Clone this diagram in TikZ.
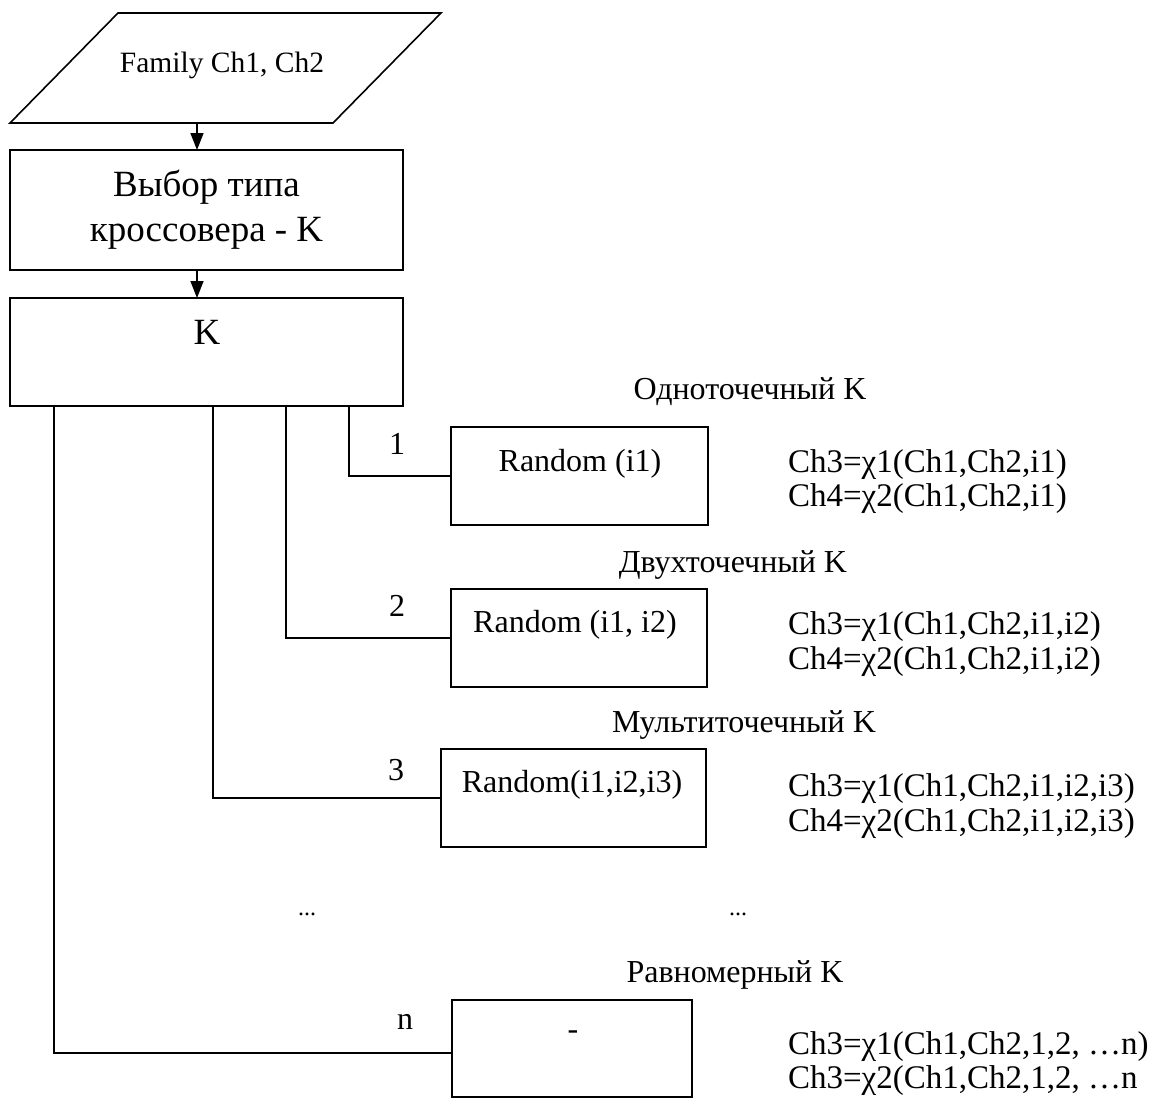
\documentclass[tikz,border=0pt]{standalone}
\usepackage{fontspec}
\setmainfont{Liberation Serif}
\usetikzlibrary{arrows.meta}
\begin{document}
\begin{tikzpicture}[x=1pt,y=-1pt,
  lw/.style={line width=1.6pt},
  fs/.style={font=\fontsize{#1}{#1}\selectfont},
  blk/.style={draw,lw,rectangle,outer sep=0pt,inner sep=0pt},
  txt/.style={inner sep=0pt,outer sep=0pt,text height=0.7em,text depth=0.22em,anchor=center,yshift=-7pt},
  frm/.style={txt,anchor=west,fs=33},
  arr/.style={lw,-{Triangle[length=17pt,width=13pt]}},
  con/.style={lw}]
\useasboundingbox (0,0) rectangle (1150,1098);

% input parallelogram
\draw[lw] (118,13) -- (441,13) -- (333,123) -- (10,123) -- cycle;
\node[txt,fs=29.5] (fam) at (222,63) {Family Ch1, Ch2};
\coordinate (famS) at (197,123);

% selection box
\node[blk,minimum width=393pt,minimum height=120pt,align=center,
      font=\fontsize{37}{45}\selectfont] (sel) at (206.5,210) {Выбор типа\\кроссовера - K};

% K box
\node[blk,minimum width=393pt,minimum height=108pt] (kbox) at (206.5,352) {};
\node[txt,fs=37] (klbl) at (207,335) {K};

% operator boxes
\node[blk,minimum width=257pt,minimum height=98pt] (r1) at (579.5,476) {};
\node[txt,fs=32] (t1) at (580,462) {Random (i1)};
\node[blk,minimum width=256pt,minimum height=98pt] (r2) at (579,638) {};
\node[txt,fs=32] (t2) at (575,623) {Random (i1, i2)};
\node[blk,minimum width=265pt,minimum height=98pt] (r3) at (573.5,798) {};
\node[txt,fs=32] (t3) at (572,783) {Random(i1,i2,i3)};
\node[blk,minimum width=240pt,minimum height=97pt] (rn) at (572,1048.5) {};
\node[txt,fs=32] (tn) at (573,1030) {-};

% branch numbers
\node[txt,fs=32] (n1) at (397,445) {1};
\node[txt,fs=32] (n2) at (397,607) {2};
\node[txt,fs=32] (n3) at (396,771) {3};
\node[txt,fs=32] (nn) at (405,1020) {n};

% method names
\node[txt,fs=32] (m1) at (750,390) {Одноточечный K};
\node[txt,fs=32] (m2) at (733,563) {Двухточечный K};
\node[txt,fs=32] (m3) at (744,723) {Мультиточечный K};
\node[txt,fs=32] (mn) at (735,973) {Равномерный K};

% formulas
\node[frm] (f1a) at (788,463) {Ch3=χ1(Ch1,Ch2,i1)};
\node[frm] (f1b) at (788,497) {Ch4=χ2(Ch1,Ch2,i1)};
\node[frm] (f2a) at (788,625) {Ch3=χ1(Ch1,Ch2,i1,i2)};
\node[frm] (f2b) at (788,660) {Ch4=χ2(Ch1,Ch2,i1,i2)};
\node[frm] (f3a) at (788,787) {Ch3=χ1(Ch1,Ch2,i1,i2,i3)};
\node[frm] (f3b) at (788,822) {Ch4=χ2(Ch1,Ch2,i1,i2,i3)};
\node[frm] (fna) at (788,1045) {Ch3=χ1(Ch1,Ch2,1,2, …n)};
\node[frm] (fnb) at (788,1079) {Ch3=χ2(Ch1,Ch2,1,2, …n};

% dots
\node[inner sep=0pt,anchor=base,fs=24] (d1) at (307,915) {...};
\node[inner sep=0pt,anchor=base,fs=24] (d2) at (738,915) {...};

% connectors
\coordinate (ax) at (197,0);
\draw[arr] (famS) -- (sel.north -| ax);
\draw[arr] (sel.south -| ax) -- (kbox.north -| ax);

\coordinate (b1) at (349,0);
\coordinate (b2) at (286,0);
\coordinate (b3) at (213,0);
\coordinate (bn) at (54,0);
\draw[con] (kbox.south -| b1) |- (r1.west);
\draw[con] (kbox.south -| b2) |- (r2.west);
\draw[con] (kbox.south -| b3) |- (r3.west);
\draw[con] (kbox.south -| bn) |- ([yshift=-4.5pt]rn.west);
\end{tikzpicture}
\end{document}
